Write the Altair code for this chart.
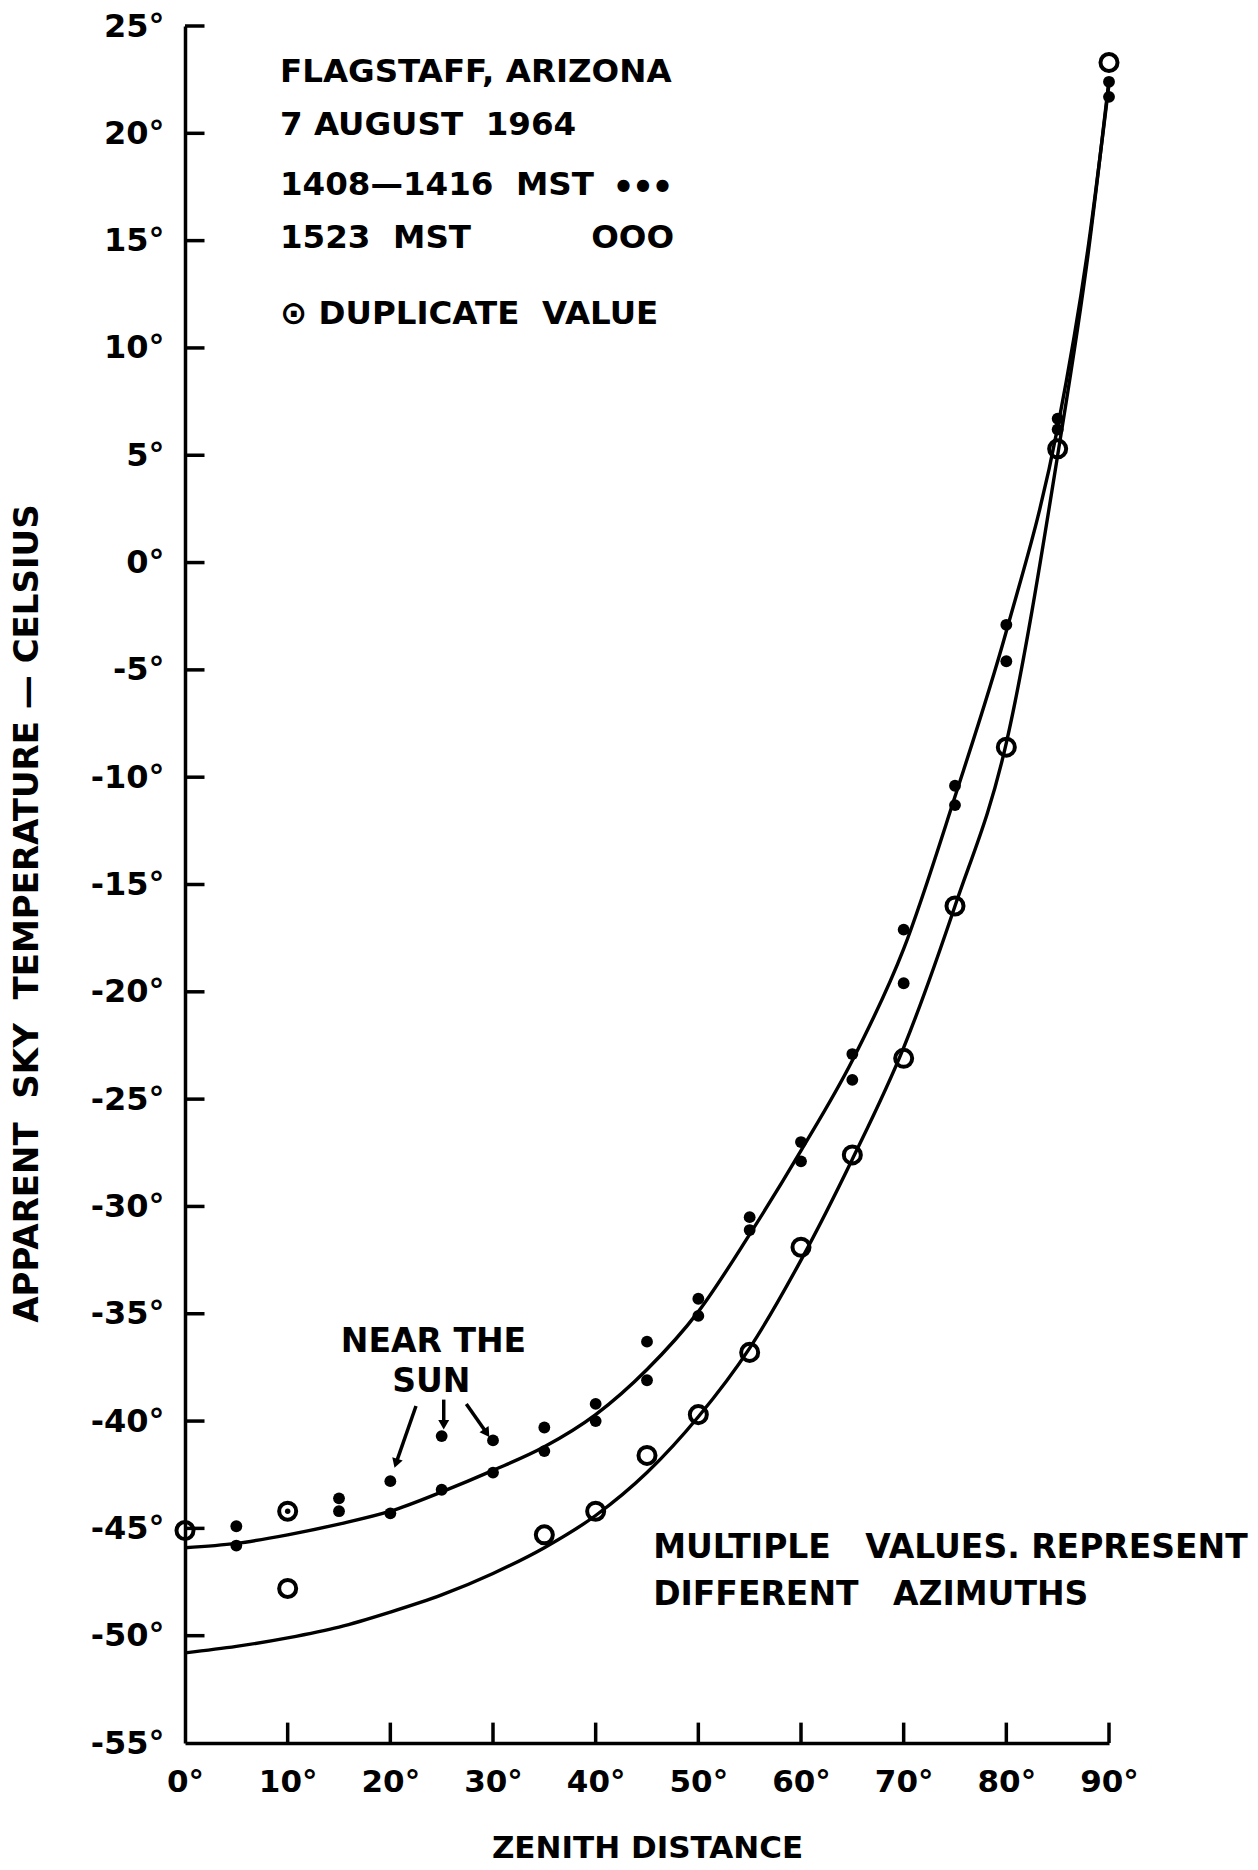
import altair as alt
import pandas as pd

# Fitted curves (zenith distance in degrees, apparent sky temperature in deg C)
curve_x = [0, 5, 10, 15, 20, 25, 30, 35, 40, 45, 50, 55, 60, 65, 70, 75, 80, 85, 88, 90]
upper_curve_y = [-45.9, -45.7, -45.3, -44.8, -44.2, -43.3, -42.3, -41.2, -39.7, -37.6,
                 -34.9, -31.3, -27.4, -23.2, -18.0, -10.9, -3.2, 6.3, 14.8, 22.3]
lower_curve_y = [-50.8, -50.5, -50.1, -49.6, -48.9, -48.1, -47.1, -45.9, -44.4, -42.4,
                 -39.8, -36.6, -32.5, -27.8, -22.6, -16.0, -8.4, 5.0, 14.5, 22.5]

# 1408-1416 MST observations (filled dots)
filled_x = [5, 5, 15, 15, 20, 20, 25, 25, 30, 30, 35, 35, 40, 40, 45, 45, 50, 50,
            55, 55, 60, 60, 65, 65, 70, 70, 75, 75, 80, 80, 85, 85, 90, 90]
filled_y = [-44.9, -45.8, -43.6, -44.2, -42.8, -44.3, -40.7, -43.2, -40.9, -42.4,
            -40.3, -41.4, -39.2, -40.0, -36.3, -38.1, -34.3, -35.1, -30.5, -31.1,
            -27.0, -27.9, -22.9, -24.1, -17.1, -19.6, -10.4, -11.3, -2.9, -4.6,
            6.7, 6.2, 22.4, 21.7]

# 1523 MST observations (open circles)
open_x = [0, 10, 35, 40, 45, 50, 55, 60, 65, 70, 75, 80, 85, 90]
open_y = [-45.1, -47.8, -45.3, -44.2, -41.6, -39.7, -36.8, -31.9, -27.6, -23.1,
          -16.0, -8.6, 5.3, 23.3]

# Duplicate value (circle with dot)
dup_x = [10]
dup_y = [-44.2]

x_ticks = [0, 10, 20, 30, 40, 50, 60, 70, 80, 90]
y_ticks = [25, 20, 15, 10, 5, 0, -5, -10, -15, -20, -25, -30, -35, -40, -45, -50, -55]

FONT = "DejaVu Sans"
NB = "\u00a0"

xs = alt.Scale(domain=[0, 90], nice=False, zero=False)
ys = alt.Scale(domain=[-55, 25], nice=False, zero=False)

curves = pd.DataFrame({
    "x": curve_x * 2,
    "y": upper_curve_y + lower_curve_y,
    "curve": ["upper"] * len(curve_x) + ["lower"] * len(curve_x),
})

base_axes = alt.Chart(pd.DataFrame({"x": [0, 90], "y": [-55, 25]})).mark_point(opacity=0).encode(
    x=alt.X("x:Q", scale=xs, axis=alt.Axis(
        values=x_ticks, labelExpr="datum.value + '°'", tickSize=0, grid=False,
        labelFlush=False, labelFont=FONT, labelFontWeight="bold", labelFontSize=31,
        labelColor="black", labelPadding=24, domainColor="black", domainWidth=3.5,
        title="ZENITH DISTANCE", titleFont=FONT, titleFontWeight="bold", titleFontSize=31,
        titleColor="black", titleX=462, titleY=105, titleBaseline="middle")),
    y=alt.Y("y:Q", scale=ys, axis=alt.Axis(
        values=y_ticks, labelExpr="datum.value + '°'", tickSize=0, grid=False,
        labelFlush=False, labelFont=FONT, labelFontWeight="bold", labelFontSize=32,
        labelColor="black", labelPadding=21, domainColor="black", domainWidth=3.5,
        title="APPARENT" + NB + NB + "SKY" + NB + NB + "TEMPERATURE" + NB + "—" + NB + "CELSIUS",
        titleFont=FONT, titleFontWeight="bold",
        titleFontSize=34, titleColor="black", titleX=-158, titleY=887, titleAngle=270,
        titleAlign="center", titleBaseline="middle")),
)

# inward tick marks
ytick_df = pd.DataFrame({"y": y_ticks[:-1], "x": [0] * (len(y_ticks) - 1), "x2": [1.9] * (len(y_ticks) - 1)})
ytick_rules = alt.Chart(ytick_df).mark_rule(color="black", strokeWidth=3.5).encode(
    x=alt.X("x:Q", scale=xs), x2="x2:Q", y=alt.Y("y:Q", scale=ys))
xtick_df = pd.DataFrame({"x": x_ticks[1:], "y": [-55] * 9, "y2": [-54.05] * 9})
xtick_rules = alt.Chart(xtick_df).mark_rule(color="black", strokeWidth=3.5).encode(
    x=alt.X("x:Q", scale=xs), y=alt.Y("y:Q", scale=ys), y2="y2:Q")

lines = alt.Chart(curves).mark_line(color="black", strokeWidth=3.4, interpolate="monotone").encode(
    x=alt.X("x:Q", scale=xs), y=alt.Y("y:Q", scale=ys), detail="curve:N")

filled = alt.Chart(pd.DataFrame({"x": filled_x, "y": filled_y})).mark_point(
    filled=True, color="black", size=140, opacity=1).encode(
    x=alt.X("x:Q", scale=xs), y=alt.Y("y:Q", scale=ys))

opened = alt.Chart(pd.DataFrame({"x": open_x + dup_x, "y": open_y + dup_y})).mark_point(
    filled=False, color="black", size=290, strokeWidth=4, opacity=1).encode(
    x=alt.X("x:Q", scale=xs), y=alt.Y("y:Q", scale=ys))

dup_dot = alt.Chart(pd.DataFrame({"x": dup_x, "y": dup_y})).mark_point(
    filled=True, color="black", size=30, opacity=1).encode(
    x=alt.X("x:Q", scale=xs), y=alt.Y("y:Q", scale=ys))

# legend block and notes
notes = pd.DataFrame({
    "x": [9.25, 9.25, 9.25, 9.25, 9.25, 45.6, 45.6, 24.2, 24.0],
    "y": [22.86, 20.4, 17.6, 15.1, 11.6, -45.9, -48.1, -36.3, -38.2],
    "text": [
        "FLAGSTAFF, ARIZONA",
        "7 AUGUST" + NB + NB + "1964",
        "1408—1416" + NB + NB + "MST",
        "1523" + NB + NB + "MST",
        "⊙ DUPLICATE" + NB + NB + "VALUE",
        "MULTIPLE" + NB + NB + NB + "VALUES." + NB + "REPRESENT",
        "DIFFERENT" + NB + NB + NB + "AZIMUTHS",
        "NEAR THE",
        "SUN",
    ],
    "size": [32.5] * 5 + [33] * 2 + [33] * 2,
    "align": ["left"] * 7 + ["center"] * 2,
})
note_left = alt.Chart(notes[notes["align"] == "left"]).mark_text(
    font=FONT, fontWeight="bold", color="black", align="left", baseline="middle").encode(
    x=alt.X("x:Q", scale=xs), y=alt.Y("y:Q", scale=ys), text="text:N",
    size=alt.Size("size:Q", scale=None, legend=None))
note_center = alt.Chart(notes[notes["align"] == "center"]).mark_text(
    font=FONT, fontWeight="bold", color="black", align="center", baseline="middle").encode(
    x=alt.X("x:Q", scale=xs), y=alt.Y("y:Q", scale=ys), text="text:N",
    size=alt.Size("size:Q", scale=None, legend=None))

symbols = pd.DataFrame({"x": [44.6, 43.6], "y": [17.6, 15.1],
                        "text": ["●" + NB + "●" + NB + "●", "OOO"],
                        "size": [16, 32.5]})
symbol_text = alt.Chart(symbols).mark_text(
    font=FONT, fontWeight="bold", color="black", align="center", baseline="middle").encode(
    x=alt.X("x:Q", scale=xs), y=alt.Y("y:Q", scale=ys), text="text:N",
    size=alt.Size("size:Q", scale=None, legend=None))

# arrows pointing at the readings near the sun
arrows = pd.DataFrame({
    "x": [22.5, 25.2, 27.4], "y": [-39.3, -39.0, -39.2],
    "x2": [20.6, 25.2, 29.3], "y2": [-41.9, -40.1, -40.5],
    "angle": [198, 180, 146],
})
arrow_shafts = alt.Chart(arrows).mark_rule(color="black", strokeWidth=3.5).encode(
    x=alt.X("x:Q", scale=xs), y=alt.Y("y:Q", scale=ys), x2="x2:Q", y2="y2:Q")
arrow_heads = alt.Chart(arrows).mark_point(
    shape="triangle", filled=True, color="black", size=120, opacity=1).encode(
    x=alt.X("x2:Q", scale=xs), y=alt.Y("y2:Q", scale=ys),
    angle=alt.Angle("angle:Q", scale=None))

chart = alt.layer(
    base_axes, ytick_rules, xtick_rules, lines, filled, opened, dup_dot,
    note_left, note_center, symbol_text, arrow_shafts, arrow_heads,
).properties(
    width=924, height=1717,
    autosize=alt.AutoSizeParams(type="none"),
    padding={"left": 185, "top": 26, "right": 149, "bottom": 127},
    background="white",
).configure_view(stroke=None)

chart.save("out.html", embed_options={"renderer": "svg", "actions": False})
